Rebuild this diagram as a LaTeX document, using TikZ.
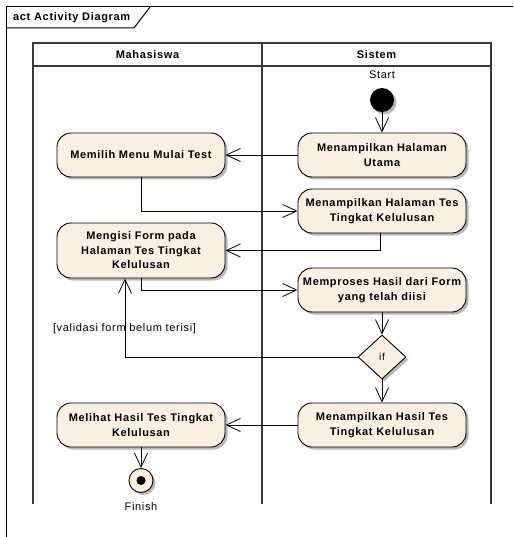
\documentclass[tikz,border=0pt]{standalone}
\usepackage{fontspec}
\setmainfont{Liberation Sans}[LetterSpace=6]
\usetikzlibrary{arrows.meta,shapes.geometric,shadows}
\definecolor{actfill}{HTML}{FAF0E2}
\definecolor{laneline}{HTML}{3A3A3A}
\begin{document}
\begin{tikzpicture}[x=1pt,y=-1pt,
  txt/.style={font=\fontsize{11}{14}\selectfont, inner sep=0pt},
  boldtxt/.style={font=\fontsize{11}{14}\selectfont\bfseries, inner sep=0pt},
  shade3/.style={drop shadow={shadow xshift=2.5pt, shadow yshift=-2.5pt, fill=black!35, opacity=0.8}},
  action/.style={draw=black, line width=0.9pt, fill=actfill, rounded corners=14pt,
    minimum width=168pt, minimum height=44pt, align=center, inner sep=2pt,
    font=\fontsize{11}{14.5}\selectfont\bfseries, shade3},
  decision/.style={diamond, draw=black, line width=0.9pt, fill=actfill, aspect=1.1,
    minimum width=48pt, minimum height=44pt, inner sep=0pt,
    font=\fontsize{10}{12}\selectfont, shade3},
  initial/.style={circle, fill=black, minimum size=24pt, inner sep=0pt, shade3},
  final/.style={circle, draw=black, line width=0.9pt, fill=actfill, minimum size=24pt, inner sep=0pt, shade3},
  flow/.style={draw=black, line width=0.8pt, -{Straight Barb[length=14pt,width=13pt,line width=0.8pt]}},
  lane/.style={draw=laneline, line width=1.8pt},
  frameline/.style={draw=black, line width=1pt}
]
\useasboundingbox (0,0) rectangle (513,537);

% diagram frame and its name tab
\draw[frameline] (6,537) -- (6,7) -- (513,7);
\draw[frameline] (6,28) -- (134,28) -- (150,7);
\node[boldtxt, anchor=west] (title) at (13,18) {act Activity Diagram};

% swimlanes (open at the bottom)
\draw[lane] (33,504) -- (33,43) -- (491,43) -- (491,504);
\draw[lane] (33,66) -- (491,66);
\draw[lane] (262,43) -- (262,504);
\node[boldtxt] (laneA) at (147.5,55) {Mahasiswa};
\node[boldtxt] (laneB) at (376.5,55) {Sistem};

% nodes
\node[initial] (start) at (382,100) {};
\node[txt] (startlbl) at (382,75) {Start};
\node[action] (utama) at (382,155) {Menampilkan Halaman\\Utama};
\node[action] (memilih) at (141,155) {Memilih Menu Mulai Test};
\node[action] (tes) at (382,211) {Menampilkan Halaman Tes\\Tingkat Kelulusan};
\node[action, minimum height=55pt] (mengisi) at (141,250.5) {Mengisi Form pada\\Halaman Tes Tingkat\\Kelulusan};
\node[action] (proses) at (382,290) {Memproses Hasil dari Form\\yang telah diisi};
\node[decision] (if) at (382,357) {if};
\node[action] (hasil) at (382,425) {Menampilkan Hasil Tes\\Tingkat Kelulusan};
\node[action] (melihat) at (141,425) {Melihat Hasil Tes Tingkat\\Kelulusan};
\node[final] (finish) at (141,480.5) {};
\fill[black] (finish.center) circle (4.5pt);
\node[txt] (finishlbl) at (141,507) {Finish};

% control flows
\draw[flow] (start) -- (utama);
\draw[flow] (utama.west) -- (memilih.east);
\draw[flow] (memilih.south) |- (tes.west);
\draw[flow] ([xshift=-2pt]tes.south) |- (mengisi.east);
\draw[flow] (mengisi.south) |- (proses.west);
\draw[flow] (proses) -- (if);
\draw[flow] (if.west) -| ([xshift=-16pt]mengisi.south);
\node[txt] (guard) at (124.5,329) {[validasi form belum terisi]};
\draw[flow] (if) -- (hasil);
\draw[flow] (hasil.west) -- (melihat.east);
\draw[flow] (melihat) -- (finish);
\end{tikzpicture}
\end{document}
